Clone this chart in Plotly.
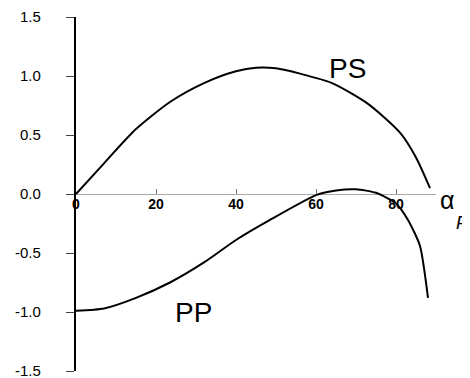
import plotly.graph_objects as go

# Data
ps_angle = [0, 7, 15, 23.5, 32, 40, 45, 50, 56, 64, 72.75, 81, 85, 88.5]
ps_value = [0, 0.26, 0.55, 0.78, 0.94, 1.04, 1.07, 1.065, 1.02, 0.94, 0.77, 0.52, 0.31, 0.05]

pp_angle = [0, 7, 15, 23.5, 32, 40, 48.5, 60, 65, 70, 75, 80, 83, 86, 88]
pp_value = [-0.99, -0.97, -0.88, -0.75, -0.58, -0.39, -0.22, -0.01, 0.03, 0.04, 0.01, -0.08, -0.22, -0.44, -0.88]

x_ticks = [0, 20, 40, 60, 80]
y_ticks = [-1.5, -1.0, -0.5, 0.0, 0.5, 1.0, 1.5]
y_tick_labels = ["-1.5", "-1.0", "-0.5", "0.0", "0.5", "1.0", "1.5"]

FONT = "Liberation Sans, Arial"

fig = go.Figure()
fig.add_trace(go.Scatter(x=ps_angle, y=ps_value, mode="lines",
                         line=dict(color="black", width=2, shape="spline", smoothing=0.7),
                         showlegend=False, cliponaxis=False))
fig.add_trace(go.Scatter(x=pp_angle, y=pp_value, mode="lines",
                         line=dict(color="black", width=2, shape="spline", smoothing=0.6),
                         showlegend=False, cliponaxis=False))

fig.add_annotation(x=67.75, y=1.06, text="PS", showarrow=False,
                   font=dict(family=FONT, size=28, color="black"))
fig.add_annotation(x=29.25, y=-1.0, text="PP", showarrow=False,
                   font=dict(family=FONT, size=28, color="black"))
fig.add_annotation(xref="paper", yref="paper", x=1.055, y=0.483, text="α",
                   showarrow=False, font=dict(family=FONT, size=25, color="black"))
fig.add_annotation(xref="paper", yref="paper", x=1.095, y=0.418, text="<i>P</i>",
                   showarrow=False, font=dict(family=FONT, size=18, color="black"))

fig.update_layout(
    width=462, height=370,
    margin=dict(l=68, r=34, t=9, b=7, autoexpand=False),
    paper_bgcolor="white", plot_bgcolor="white",
    font=dict(family=FONT, color="black"),
)
fig.update_xaxes(range=[0, 90], tickvals=x_ticks, ticktext=[str(v) for v in x_ticks],
                 anchor="free", position=0.5, showline=False, showgrid=False,
                 zeroline=False, ticks="inside", ticklen=5, tickcolor="#777",
                 automargin=False,
                 tickfont_size=14, tickfont_family=FONT, tickfont_weight="bold",
                 tickfont_color="black")
fig.update_yaxes(range=[-1.5, 1.5], tickvals=y_ticks,
                 ticktext=[t + "\u2003\u2002" for t in y_tick_labels],
                 showline=True, linecolor="black", linewidth=1.5, showgrid=False,
                 zeroline=True, zerolinecolor="#aaa", zerolinewidth=1,
                 ticks="outside", ticklen=8, tickwidth=1, tickcolor="#444",
                 automargin=False, ticklabeloverflow="allow",
                 tickfont_size=15, tickfont_family=FONT, tickfont_color="black")

fig.write_html("out.html")
